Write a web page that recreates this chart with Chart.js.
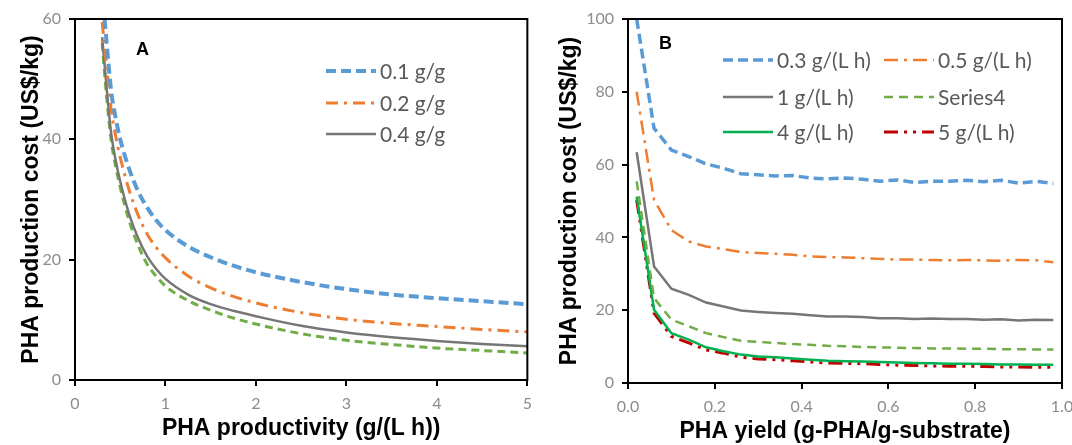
<!DOCTYPE html>
<html>
<head>
<meta charset="utf-8">
<script src="https://cdn.jsdelivr.net/npm/chart.js@4/dist/chart.umd.min.js"></script>
<style>
  body { margin: 0; background: #fff; overflow: hidden; }
  #wrapA { position: absolute; left: 0; top: 0; width: 540px; height: 445px; overflow: hidden; }
  #wrapB { position: absolute; left: 540px; top: 0; width: 532px; height: 445px; overflow: hidden; }
</style>
</head>
<body>
<div id="wrapA"><canvas id="chartA" width="540" height="445"></canvas></div>
<div id="wrapB"><canvas id="chartB" width="556" height="445"></canvas></div>
<script>
// Panel A: cost vs productivity
const productivity = [0.3, 0.35, 0.4, 0.45, 0.5, 0.6, 0.7, 0.8, 0.9, 1, 1.25, 1.5, 1.75, 2, 2.5, 3, 3.5, 4, 4.5, 5];
const costYield01 = [65, 56, 48, 43.5, 40, 35, 31.3, 28.6, 26.5, 24.9, 22.2, 20.4, 19, 17.9, 16.3, 15.1, 14.2, 13.6, 13.1, 12.6];
const costYield02 = [59.5, 52, 45, 40.5, 37, 31.5, 27.3, 24.2, 22, 20.3, 17.3, 15.3, 13.9, 12.8, 11.2, 10.1, 9.4, 8.9, 8.4, 8.0];
const costYield04 = [57, 48.5, 41, 36.5, 33, 27.5, 23.5, 20.5, 18.4, 16.8, 14.2, 12.6, 11.5, 10.6, 9.0, 7.9, 7.1, 6.5, 6.0, 5.6];
const costYieldX = [56, 47, 39.8, 35.5, 32, 26.4, 22.3, 19.2, 17.2, 15.6, 13.2, 11.6, 10.3, 9.3, 7.7, 6.6, 5.9, 5.3, 4.9, 4.5];
const labelsA = ["0.1 g/g", "0.2 g/g", "0.4 g/g"];

// Panel B: cost vs yield
const yieldValues = [0.02, 0.06, 0.10, 0.14, 0.18, 0.22, 0.26, 0.30, 0.34, 0.38, 0.42, 0.46, 0.50,
  0.54, 0.58, 0.62, 0.66, 0.70, 0.74, 0.78, 0.82, 0.86, 0.90, 0.94, 0.98];
const costProd03 = [100, 70, 64, 62.2, 60.2, 59, 57.5, 57.2, 56.9, 57, 56.3, 56.1, 56.3, 56, 55.4, 55.8, 55.1, 55.4, 55.4, 55.7, 55.3, 55.7, 54.9, 55.4, 54.8];
const costProd05 = [80, 50.3, 42, 38.9, 37.5, 36.8, 36, 35.7, 35.5, 35.2, 34.8, 34.6, 34.5, 34.3, 34.1, 33.9, 33.9, 33.8, 33.7, 33.8, 33.7, 33.6, 33.8, 33.7, 33.2];
const costProd1 = [63.4, 32, 25.9, 24.2, 22.1, 21, 19.9, 19.5, 19.2, 19, 18.6, 18.3, 18.3, 18.1, 17.8, 17.8, 17.6, 17.7, 17.6, 17.6, 17.4, 17.5, 17.2, 17.4, 17.3];
const costSeries4 = [55.4, 23.3, 17.4, 15.6, 13.7, 12.6, 11.6, 11.3, 11, 10.7, 10.5, 10.2, 10.1, 9.9, 9.8, 9.7, 9.6, 9.5, 9.5, 9.4, 9.4, 9.3, 9.3, 9.2, 9.2];
const costProd4 = [51.2, 20.1, 13.7, 11.9, 9.8, 8.7, 7.8, 7.3, 7.1, 6.7, 6.4, 6.1, 6.0, 5.9, 5.8, 5.6, 5.5, 5.4, 5.3, 5.3, 5.2, 5.1, 5.1, 5.0, 5.0];
const costProd5 = [50.3, 19.2, 12.8, 11, 9.1, 8.2, 7.1, 6.6, 6.4, 6.1, 5.8, 5.5, 5.4, 5.3, 5.1, 4.9, 4.8, 4.7, 4.6, 4.6, 4.5, 4.4, 4.4, 4.3, 4.3];
const labelsB = ["0.3 g/(L h)", "0.5 g/(L h)", "1 g/(L h)", "Series4", "4 g/(L h)", "5 g/(L h)"];

const tickFont = { family: "Lato, 'Open Sans', sans-serif", size: 16 };
const titleFont = { family: "'Liberation Sans', Arial, sans-serif", size: 23, weight: "bold" };
const tickColor = "#8c8c8c";

function toPoints(xs, ys) {
  return xs.map((x, i) => ({ x: x, y: ys[i] }));
}

// frame, panel letter and in-plot legend
const panelDecor = {
  id: "panelDecor",
  afterDatasetsDraw(chart, args, opts) {
    const ctx = chart.ctx;
    const area = chart.chartArea;
    ctx.save();
    ctx.strokeStyle = "#000";
    ctx.lineWidth = 2;
    ctx.strokeRect(area.left, area.top, area.right - area.left, area.bottom - area.top);

    ctx.fillStyle = "#000";
    ctx.font = "bold 18px 'Liberation Sans', Arial, sans-serif";
    ctx.textBaseline = "middle";
    ctx.fillText(opts.letter, opts.letterX, opts.letterY);

    ctx.font = opts.fontSize + "px Lato, 'Open Sans', sans-serif";
    opts.entries.forEach((entry) => {
      const ds = chart.data.datasets[entry.index];
      ctx.strokeStyle = ds.borderColor;
      ctx.lineWidth = ds.borderWidth;
      ctx.setLineDash(ds.borderDash || []);
      ctx.beginPath();
      ctx.moveTo(entry.x, entry.y);
      ctx.lineTo(entry.x + opts.lineLength, entry.y);
      ctx.stroke();
      ctx.fillStyle = "#595959";
      ctx.fillText(ds.label, entry.x + opts.lineLength + 4, entry.y + 1);
    });
    ctx.restore();
  },
};

function axisOptions(min, max, step, title, fit, titlePadding, decimals) {
  return {
    type: "linear",
    min: min,
    max: max,
    border: { color: "#000", width: 2 },
    grid: { drawOnChartArea: false, color: "#000", lineWidth: 2, tickLength: 6 },
    ticks: {
      stepSize: step,
      color: tickColor,
      font: tickFont,
      padding: 8,
      maxRotation: 0,
      callback: (value) => value.toFixed(decimals),
    },
    title: { display: true, text: title, color: "#000", font: titleFont, padding: titlePadding },
    afterFit: fit,
  };
}

function lineDataset(label, xs, ys, color, width, dash, tension) {
  return {
    label: label,
    data: toPoints(xs, ys),
    borderColor: color,
    borderWidth: width,
    borderDash: dash,
    pointRadius: 0,
    fill: false,
    tension: tension,
    cubicInterpolationMode: tension ? "monotone" : "default",
  };
}

new Chart(document.getElementById("chartA"), {
  type: "line",
  data: {
    datasets: [
      lineDataset(labelsA[0], productivity, costYield01, "#5B9BD5", 4, [10, 5], 0.4),
      lineDataset(labelsA[1], productivity, costYield02, "#ED7D31", 3, [12, 6, 3, 6], 0.4),
      lineDataset(labelsA[2], productivity, costYield04, "#767676", 2.5, [], 0.4),
      lineDataset("", productivity, costYieldX, "#70AD47", 3, [8, 5], 0.4),
    ],
  },
  plugins: [panelDecor],
  options: {
    responsive: false,
    animation: false,
    layout: { padding: { top: 19, right: 11, left: 0, bottom: 0 } },
    plugins: {
      legend: { display: false },
      tooltip: { enabled: false },
      panelDecor: {
        letter: "A",
        letterX: 136,
        letterY: 50,
        lineLength: 50,
        fontSize: 21,
        entries: [
          { index: 0, x: 326, y: 71 },
          { index: 1, x: 326, y: 103 },
          { index: 2, x: 326, y: 134 },
        ],
      },
    },
    scales: {
      x: axisOptions(0, 5, 1, "PHA productivity (g/(L h))", (s) => { s.height = 65; }, { top: 0, bottom: 3 }, 0),
      y: axisOptions(0, 60, 20, "PHA production cost (US$/kg)", (s) => { s.width = 75; }, { top: 18, bottom: 0 }, 0),
    },
  },
});

new Chart(document.getElementById("chartB"), {
  type: "line",
  data: {
    datasets: [
      lineDataset(labelsB[0], yieldValues, costProd03, "#5B9BD5", 3.5, [10, 5], 0),
      lineDataset(labelsB[1], yieldValues, costProd05, "#ED7D31", 2.5, [14, 6, 3, 6], 0),
      lineDataset(labelsB[2], yieldValues, costProd1, "#767676", 2.5, [], 0),
      lineDataset(labelsB[3], yieldValues, costSeries4, "#70AD47", 2.5, [9, 6], 0),
      lineDataset(labelsB[4], yieldValues, costProd4, "#00B050", 2.5, [], 0),
      lineDataset(labelsB[5], yieldValues, costProd5, "#C00000", 3, [14, 6, 3, 6, 3, 6], 0),
    ],
  },
  plugins: [panelDecor],
  options: {
    responsive: false,
    animation: false,
    layout: { padding: { top: 19, right: 34, left: 0, bottom: 0 } },
    plugins: {
      legend: { display: false },
      tooltip: { enabled: false },
      panelDecor: {
        letter: "B",
        letterX: 119,
        letterY: 44,
        lineLength: 50,
        fontSize: 21,
        entries: [
          { index: 0, x: 183, y: 60 },
          { index: 1, x: 344, y: 60 },
          { index: 2, x: 183, y: 97 },
          { index: 3, x: 344, y: 97 },
          { index: 4, x: 183, y: 132 },
          { index: 5, x: 344, y: 132 },
        ],
      },
    },
    scales: {
      x: axisOptions(0, 1, 0.2, "PHA yield (g-PHA/g-substrate)", (s) => { s.height = 62; }, { top: 0, bottom: 0 }, 1),
      y: axisOptions(0, 100, 20, "PHA production cost (US$/kg)", (s) => { s.width = 88; }, { top: 16, bottom: 0 }, 0),
    },
  },
});
</script>
</body>
</html>
